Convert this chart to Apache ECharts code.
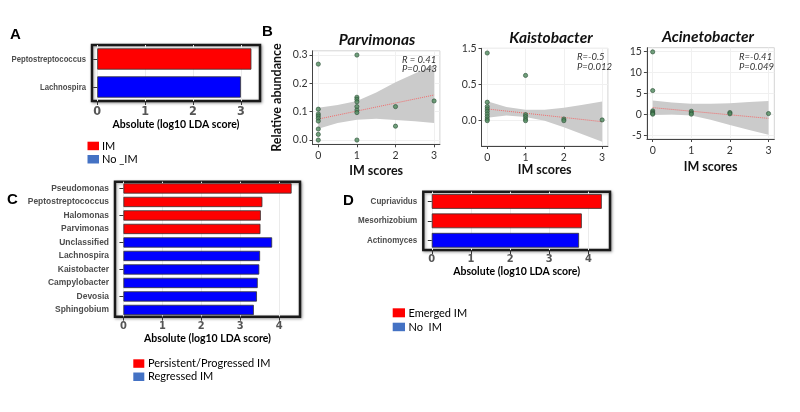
<!DOCTYPE html>
<html><head><meta charset="utf-8">
<script src="https://cdn.jsdelivr.net/npm/echarts@6/dist/echarts.min.js"></script>
<style>html,body{margin:0;padding:0;background:#fff}#c{width:800px;height:412px}</style>
</head><body><div id="c"></div>
<script>
// ---------- Panel A ----------
const catsA = ['Peptostreptococcus', 'Lachnospira'];
const valsA = [3.22, 3.0];
const groupA = ['IM', 'No _IM'];
const groupsA = ['IM', 'No _IM'];
const ticksA = [0, 1, 2, 3];
// ---------- Panel C ----------
const catsC = ['Pseudomonas', 'Peptostreptococcus', 'Halomonas', 'Parvimonas', 'Unclassified',
  'Lachnospira', 'Kaistobacter', 'Campylobacter', 'Devosia', 'Sphingobium'];
const valsC = [4.32, 3.57, 3.53, 3.52, 3.82, 3.51, 3.49, 3.45, 3.43, 3.35];
const groupC = ['Persistent/Progressed IM', 'Persistent/Progressed IM', 'Persistent/Progressed IM',
  'Persistent/Progressed IM', 'Regressed IM', 'Regressed IM', 'Regressed IM', 'Regressed IM',
  'Regressed IM', 'Regressed IM'];
const groupsC = ['Persistent/Progressed IM', 'Regressed IM'];
const ticksC = [0, 1, 2, 3, 4];
// ---------- Panel D ----------
const catsD = ['Cupriavidus', 'Mesorhizobium', 'Actinomyces'];
const valsD = [4.34, 3.83, 3.76];
const groupD = ['Emerged IM', 'Emerged IM', 'No  IM'];
const groupsD = ['Emerged IM', 'No  IM'];
const ticksD = [0, 1, 2, 3, 4];
// ---------- Panel B scatter ----------
const scoreTicks = [0, 1, 2, 3];
const parvX = [0, 0, 0, 0, 0, 0, 0, 0, 0, 1, 1, 1, 1, 1, 1, 1, 1, 2, 2, 3];
const parvY = [0.268, 0.109, 0.092, 0.085, 0.077, 0.067, 0.039, 0.02, 0.0,
  0.30, 0.151, 0.144, 0.135, 0.118, 0.106, 0.097, 0.0, 0.118, 0.049, 0.138];
const kaisX = [0, 0, 0, 0, 0, 0, 0, 0, 0, 1, 1, 1, 1, 1, 2, 2, 3];
const kaisY = [0.935, 0.255, 0.194, 0.162, 0.13, 0.093, 0.056, 0.023, 0.0,
  0.625, 0.083, 0.056, 0.023, 0.0, 0.023, 0.0, 0.01];
const acinX = [0, 0, 0, 0, 0, 0, 1, 1, 1, 2, 2, 3];
const acinY = [14.9, 5.65, 0.8, 0.5, 0.2, 0.0, 0.7, 0.3, 0.0, 0.4, 0.1, 0.15];
// regression lines (value at score 0 and score 3)
const fitX = [0, 3];
const parvFit = [0.074, 0.159];
const kaisFit = [0.162, -0.014];
const acinFit = [1.57, -1.0];
// confidence bands
const bandX = [0, 0.5, 1, 1.5, 2, 2.5, 3];
const parvUpper = [0.114, 0.124, 0.138, 0.168, 0.204, 0.235, 0.265];
const parvLower = [0.040, 0.060, 0.072, 0.075, 0.071, 0.066, 0.060];
const kaisUpper = [0.27, 0.19, 0.15, 0.15, 0.18, 0.22, 0.265];
const kaisLower = [0.04, 0.07, 0.05, 0.0, -0.09, -0.19, -0.29];
const acinUpper = [3.3, 2.8, 2.5, 2.5, 2.6, 2.9, 3.15];
const acinLower = [-0.2, -0.1, -0.3, -1.3, -2.6, -3.8, -4.9];
const parvTicks = [0, 0.1, 0.2, 0.3];
const kaisTicks = [0, 0.5, 1.0];
const kaisTickLabels = ['0.0', '0.5', '1.5'];
const acinTicks = [-5, 0, 5, 10, 15];
const statsText = { parv: ['R = 0.41', 'P=0.043'], kais: ['R=-0.5', 'P=0.012'], acin: ['R=-0.41', 'P=0.049'] };

const RED = '#ff0000', BLUE = '#0000ff', LEG_BLUE = '#4472c4';
const groupColor = { 'IM': RED, 'No _IM': BLUE, 'Persistent/Progressed IM': RED, 'Regressed IM': BLUE, 'Emerged IM': RED, 'No  IM': BLUE };

const NARROW = '"Liberation Sans Narrow", "DejaVu Sans Condensed", "Noto Sans", Roboto, sans-serif';
const NARROW_W = 'bold condensed';
const ARIAL = '"Liberation Sans", Arial, sans-serif';
const CAL = 'Lato, "Open Sans", sans-serif';

const grids = [
  { left: 92, top: 45, width: 168, height: 56 },          // A
  { left: 312.5, top: 50.8, width: 127.4, height: 93.5 },  // B1
  { left: 481.5, top: 48.3, width: 126.4, height: 97.7 },  // B2
  { left: 646.9, top: 47.7, width: 127.4, height: 91.3 },  // B3
  { left: 115, top: 181.7, width: 185, height: 135 },      // C
  { left: 423.3, top: 191.7, width: 186.7, height: 58.3 }  // D
].map((g, i) => {
  const bar = (i === 0 || i === 4 || i === 5);
  return Object.assign(g, { containLabel: false, outerBoundsMode: 'none' }, bar ? {
    show: true, borderColor: '#1a1a1a', borderWidth: 2.5, backgroundColor: '#fff',
    shadowColor: 'rgba(0,0,0,0.35)', shadowBlur: 3, shadowOffsetX: 1, shadowOffsetY: 1
  } : { show: true, borderColor: '#d4d4d4', borderWidth: 1, backgroundColor: '#fff' });
});

function barXAxis(gi, min, max, ticks, fs) {
  return {
    type: 'value', gridIndex: gi, min: min, max: max,
    name: 'Absolute (log10 LDA score)', nameLocation: 'middle', nameGap: 16,
    nameTextStyle: { fontFamily: CAL, fontWeight: 'bold', fontSize: 10.5, color: '#000' },
    axisLine: { show: false },
    axisTick: { show: true, length: 4, customValues: ticks, lineStyle: { color: '#333' } },
    axisLabel: { customValues: ticks, margin: 4, fontFamily: NARROW, fontWeight: NARROW_W, fontSize: fs, color: '#555' },
    splitLine: { show: true, lineStyle: { color: '#ebebeb', width: 1 } }
  };
}
function barYAxis(gi, cats) {
  return {
    type: 'category', gridIndex: gi, data: cats, inverse: true,
    axisLine: { show: false },
    axisTick: { show: true, alignWithLabel: true, length: 4, lineStyle: { color: '#333' } },
    axisLabel: { show: false },
    splitLine: { show: false }
  };
}
function scatXAxis(gi, gap) {
  return {
    type: 'value', gridIndex: gi, min: -0.15, max: 3.15,
    name: 'IM scores', nameLocation: 'middle', nameGap: gap,
    nameTextStyle: { fontFamily: CAL, fontWeight: 'bold', fontSize: 12.5, color: '#111' },
    axisLine: { show: true, onZero: false, lineStyle: { color: '#444', width: 1 } },
    axisTick: { show: true, length: 3, customValues: scoreTicks, lineStyle: { color: '#444' } },
    axisLabel: { customValues: scoreTicks, margin: 6, fontFamily: CAL, fontSize: 10.5, color: '#333' },
    splitLine: { show: true, lineStyle: { color: '#f0f0f0' } }
  };
}
function scatYAxis(gi, min, max, ticks, fmt, name) {
  const ax = {
    type: 'value', gridIndex: gi, min: min, max: max,
    axisLine: { show: true, onZero: false, lineStyle: { color: '#444', width: 1 } },
    axisTick: { show: true, length: 3, customValues: ticks, lineStyle: { color: '#444' } },
    axisLabel: { customValues: ticks, margin: 5, fontFamily: CAL, fontSize: 10.5, color: '#333', formatter: fmt },
    splitLine: { show: true, lineStyle: { color: '#f0f0f0' } }
  };
  if (name) {
    ax.name = name; ax.nameLocation = 'middle'; ax.nameGap = 29;
    ax.nameTextStyle = { fontFamily: CAL, fontWeight: 'bold', fontSize: 12.5, color: '#111' };
  }
  return ax;
}

const xAxes = [
  barXAxis(0, -0.11, 3.40, ticksA, 12.5),
  scatXAxis(1, 20), scatXAxis(2, 16), scatXAxis(3, 21),
  barXAxis(4, -0.216, 4.536, ticksC, 11),
  barXAxis(5, -0.216, 4.55, ticksD, 11)
];
const yAxes = [
  barYAxis(0, catsA),
  scatYAxis(1, -0.015, 0.315, parvTicks, v => v.toFixed(1), 'Relative abundance'),
  scatYAxis(2, -0.35, 1.0, kaisTicks, v => kaisTickLabels[kaisTicks.findIndex(t => Math.abs(t - v) < 1e-9)] || ''),
  scatYAxis(3, -5.93, 15.9, acinTicks, v => String(v)),
  barYAxis(4, catsC),
  barYAxis(5, catsD)
];

const series = [];
function addBars(gi, cats, vals, grp, groups) {
  groups.forEach(g => {
    series.push({
      type: 'bar', name: g, xAxisIndex: gi, yAxisIndex: gi, stack: 'p' + gi, barWidth: '76%',
      itemStyle: { color: groupColor[g], borderColor: '#333', borderWidth: 0.8 },
      data: vals.map((v, i) => grp[i] === g ? v : '-'),
      silent: true
    });
  });
}
addBars(0, catsA, valsA, groupA, groupsA);
addBars(4, catsC, valsC, groupC, groupsC);
addBars(5, catsD, valsD, groupD, groupsD);

function addScatter(gi, xs, ys, fit, up, lo) {
  series.push({
    type: 'custom', xAxisIndex: gi, yAxisIndex: gi, z: 1, silent: true,
    data: [[bandX[0], up[0]]],
    renderItem: function (params, api) {
      const pts = [];
      for (let i = 0; i < bandX.length; i++) pts.push(api.coord([bandX[i], up[i]]));
      for (let i = bandX.length - 1; i >= 0; i--) pts.push(api.coord([bandX[i], lo[i]]));
      return { type: 'polygon', shape: { points: pts }, style: { fill: '#cbcbcb', stroke: null } };
    }
  });
  series.push({
    type: 'line', xAxisIndex: gi, yAxisIndex: gi, z: 2, silent: true, symbol: 'none',
    lineStyle: { color: '#f26b6b', width: 1, type: 'dotted' },
    data: fitX.map((x, i) => [x, fit[i]])
  });
  series.push({
    type: 'scatter', xAxisIndex: gi, yAxisIndex: gi, z: 3, silent: true, symbolSize: 4.2,
    itemStyle: { color: '#4f8a5c', borderColor: '#2b4f35', borderWidth: 0.8 },
    data: xs.map((x, i) => [x, ys[i]])
  });
}
addScatter(1, parvX, parvY, parvFit, parvUpper, parvLower);
addScatter(2, kaisX, kaisY, kaisFit, kaisUpper, kaisLower);
addScatter(3, acinX, acinY, acinFit, acinUpper, acinLower);

function txt(x, y, text, o, extra) {
  return Object.assign({ type: 'text', x: x, y: y, silent: true, z: 100,
    style: Object.assign({ text: text, fill: '#000', align: 'left', verticalAlign: 'middle',
      fontFamily: CAL, fontSize: 11 }, o || {}) }, extra || {});
}
function rect(x, y, w, h, c) {
  return { type: 'rect', silent: true, z: 100, shape: { x: x, y: y, width: w, height: h }, style: { fill: c } };
}
const LETTER = { fontFamily: ARIAL, fontWeight: 'bold', fontSize: 15 };
const TITLE = { fontFamily: CAL, fontWeight: 'bold', fontStyle: 'italic', fontSize: 15.5, align: 'center', fill: '#111' };
const STAT = { fontFamily: CAL, fontStyle: 'italic', fontSize: 9.5, fill: '#333' };
const graphics = [
  txt(10, 35, 'A', LETTER), txt(262, 31.5, 'B', LETTER), txt(7, 199.5, 'C', LETTER), txt(343, 201.3, 'D', LETTER),
  txt(377, 40, 'Parvimonas', TITLE), txt(551, 38.3, 'Kaistobacter', TITLE), txt(708, 36.7, 'Acinetobacter', TITLE),
  txt(402, 59.5, statsText.parv[0], STAT), txt(402, 68.5, statsText.parv[1], STAT),
  txt(577, 56.7, statsText.kais[0], STAT), txt(577, 67, statsText.kais[1], STAT),
  txt(739, 56.5, statsText.acin[0], STAT), txt(739, 67, statsText.acin[1], STAT),
  // legends
  rect(87.5, 141.7, 11.5, 8.5, RED), txt(102, 146, groupsA[0]),
  rect(87.5, 155, 11.5, 8.5, LEG_BLUE), txt(102, 159.5, groupsA[1]),
  rect(133.3, 359.3, 11, 8.5, RED), txt(148, 363.5, groupsC[0]),
  rect(133.3, 372.5, 11, 8.5, LEG_BLUE), txt(148, 376.7, groupsC[1]),
  rect(392.7, 308.3, 12.3, 9, RED), txt(408.5, 313, groupsD[0]),
  rect(392.7, 322.7, 12.3, 8.5, LEG_BLUE), txt(408.5, 327, groupsD[1])
];

const chart = echarts.init(document.getElementById('c'), null, { renderer: 'canvas' });
chart.setOption({
  animation: false,
  backgroundColor: '#fff',
  grid: grids, xAxis: xAxes, yAxis: yAxes, series: series, graphic: graphics
});

// Category labels (gray bold), placed with the category axis scale
const catPanels = [[0, catsA, 9.8, 0.79], [4, catsC, 9.2, 0.92], [5, catsD, 9.2, 0.88]];
const catLabels = [];
catPanels.forEach(([gi, cats, fs, sx]) => {
  const x0 = chart.convertToPixel({ xAxisIndex: gi }, xAxes[gi].min);
  cats.forEach(c => {
    const y = chart.convertToPixel({ yAxisIndex: gi }, c);
    catLabels.push(txt(x0 - 6, y, c,
      { fontFamily: ARIAL, fontWeight: 'bold', fontSize: fs, fill: '#4d4d4d', align: 'right' },
      { scaleX: sx }));
  });
});
chart.setOption({ graphic: graphics.concat(catLabels) });
</script></body></html>
